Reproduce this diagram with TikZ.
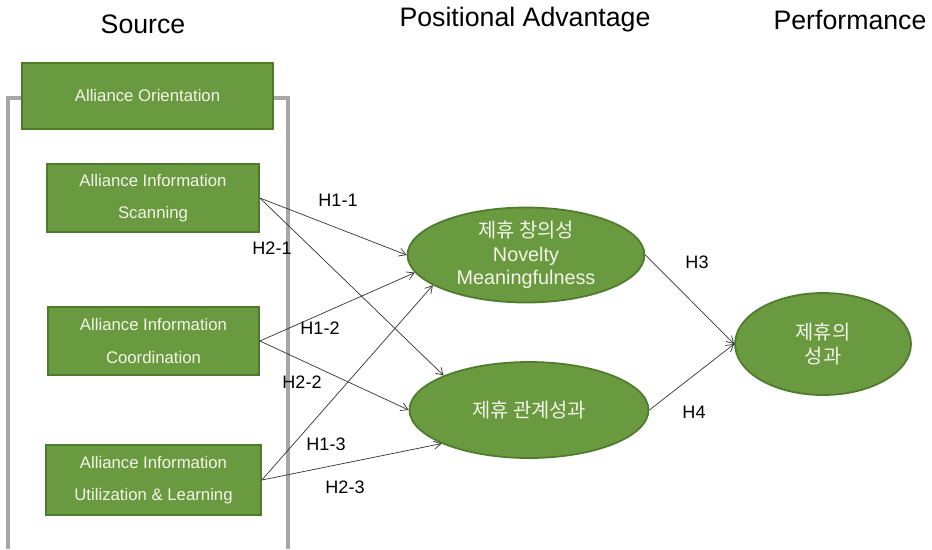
\documentclass[tikz,border=0pt]{standalone}
\usepackage{fontspec}
\setmainfont{Liberation Sans}
\newfontfamily\kr{Noto Sans CJK KR}
\usetikzlibrary{shapes.geometric,arrows.meta}
\definecolor{boxgreen}{HTML}{6A9A3F}
\definecolor{edgegreen}{HTML}{4F7B2C}
\definecolor{boxtext}{HTML}{F4F4EA}
\definecolor{framegray}{HTML}{A6A6A6}
\begin{document}
\begin{tikzpicture}[x=0.03cm, y=-0.03cm]
\tikzset{srcbox/.style={draw=edgegreen, line width=1.5pt, fill=boxgreen, text=boxtext,
  align=center, inner sep=0pt, font=\fontsize{14.3}{27.5}\selectfont}}
\tikzset{advell/.style={ellipse, draw=edgegreen, line width=1.5pt, fill=boxgreen, text=boxtext,
  align=center, inner sep=0pt, font=\fontsize{16.9}{19.8}\selectfont}}
\tikzset{hyp/.style={draw=black!80, line width=0.6pt, -{Straight Barb[length=6pt,width=7pt]}}}
\tikzset{hlabel/.style={font=\fontsize{15.4}{18}\selectfont}}
\tikzset{title/.style={font=\fontsize{22.8}{26}\selectfont}}
\useasboundingbox (0,0) rectangle (932,549);
% headings
\node[title] (tsrc) at (143,24) {Source};
\node[title] (tpos) at (525,20) {Positional Advantage};
\node[title] (tperf) at (850,20) {Performance};
% frame round the sources
\draw[framegray, line width=2.8pt] (8,549) |- (288,98) -- (288,549);
% sources
\node[srcbox, minimum width=7.53cm, minimum height=1.98cm] (orient) at (147.5,96) {Alliance Orientation};
\node[srcbox, minimum width=6.36cm, minimum height=2.04cm] (scan) at (153,198) {Alliance Information\\Scanning};
\node[srcbox, minimum width=6.33cm, minimum height=2.04cm] (coord) at (153.5,341) {Alliance Information\\Coordination};
\node[srcbox, minimum width=6.45cm, minimum height=2.10cm] (util) at (153.5,480) {Alliance Information\\Utilization \& Learning};
% positional advantage and performance
\node[advell, minimum width=7.11cm, minimum height=2.85cm] (novel) at (526,255) {{\kr 제휴 창의성}\\Novelty\\Meaningfulness};
\node[advell, minimum width=7.17cm, minimum height=2.88cm] (relat) at (529,410) {\kr 제휴 관계성과};
\node[advell, minimum width=5.28cm, minimum height=3.06cm, font=\kr\fontsize{16.9}{20.5}\selectfont] (perf) at (823,344) {제휴의\\성과};
% hypotheses
\draw[hyp] (scan.east) -- (novel.west);
\draw[hyp] (scan.east) -- (relat.158);
\draw[hyp] (coord.east) -- (novel.189);
\draw[hyp] (coord.east) -- (relat.west);
\draw[hyp] (util.east) -- (novel.198);
\draw[hyp] (util.east) -- (relat.201);
\draw[hyp] (novel.east) -- (perf.west);
\draw[hyp] (relat.east) -- (perf.west);
\node[hlabel] (h11) at (338,200) {H1-1};
\node[hlabel] (h21) at (272,248) {H2-1};
\node[hlabel] (h12) at (320,328) {H1-2};
\node[hlabel] (h22) at (302,382) {H2-2};
\node[hlabel] (h13) at (326,444) {H1-3};
\node[hlabel] (h23) at (345,487) {H2-3};
\node[hlabel] (h3) at (697,262) {H3};
\node[hlabel] (h4) at (694,412) {H4};
\end{tikzpicture}
\end{document}
